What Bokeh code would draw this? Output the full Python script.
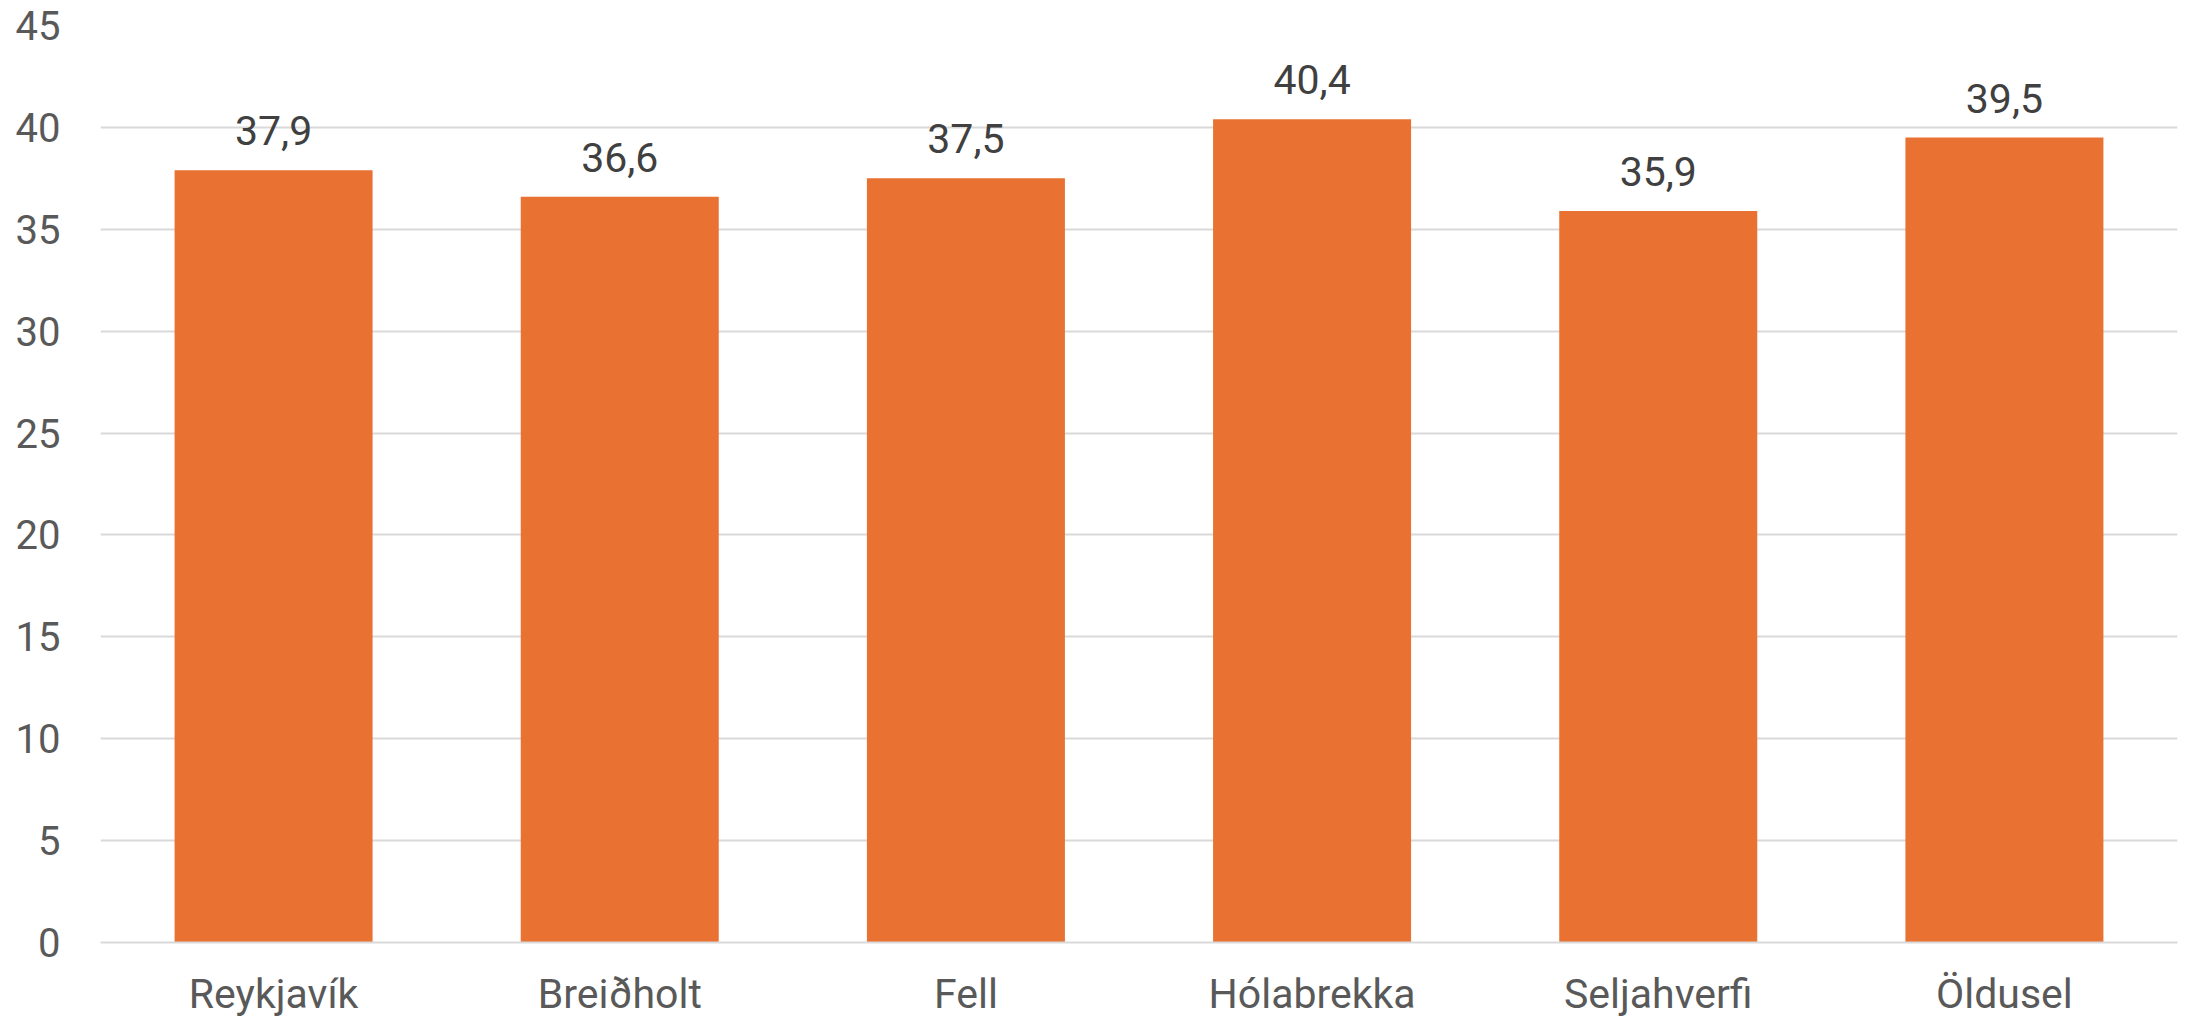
from bokeh.plotting import figure
from bokeh.models import ColumnDataSource, FactorRange, Range1d, FixedTicker
from bokeh.core.properties import value
from bokeh.embed import file_html
from bokeh.resources import INLINE

categories = ["Reykjavík", "Breiðholt", "Fell", "Hólabrekka", "Seljahverfi", "Öldusel"]
values = [37.9, 36.6, 37.5, 40.4, 35.9, 39.5]
y_ticks = [0, 5, 10, 15, 20, 25, 30, 35, 40, 45]

labels = [f"{v:.1f}".replace(".", ",") for v in values]
src = ColumnDataSource(dict(cat=categories, val=values, lab=labels))

FONT = "Roboto"

p = figure(
    x_range=FactorRange(*categories),
    y_range=Range1d(0, 45),
    width=2185, height=1020,
    output_backend="svg", toolbar_location=None,
    min_border_left=100, min_border_right=8, min_border_top=25, min_border_bottom=60,
)
p.outline_line_color = None
p.background_fill_color = "white"
p.border_fill_color = "white"

p.vbar(x="cat", top="val", width=0.572, source=src, fill_color="#E97132", line_color=None)

p.text(x="cat", y="val", text="lab", source=src, text_align="center", text_baseline="bottom",
       y_offset=-25, text_font=value(FONT), text_font_size="41px", text_color="#404040")

p.xgrid.grid_line_color = None
p.ygrid.grid_line_color = "#D9D9D9"
p.ygrid.grid_line_width = 2
p.ygrid.ticker = FixedTicker(ticks=y_ticks)

p.yaxis.ticker = FixedTicker(ticks=y_ticks)
p.yaxis.axis_line_color = None
p.yaxis.major_tick_line_color = None
p.yaxis.minor_tick_line_color = None
p.yaxis.major_tick_out = 0
p.yaxis.major_label_standoff = 40
p.yaxis.major_label_text_font = FONT
p.yaxis.major_label_text_font_size = "40px"
p.yaxis.major_label_text_color = "#595959"

p.xaxis.axis_line_color = "#D9D9D9"
p.xaxis.axis_line_width = 2
p.xaxis.major_tick_line_color = None
p.xaxis.minor_tick_line_color = None
p.xaxis.major_tick_out = 0
p.xaxis.major_label_standoff = 27
p.xaxis.major_label_text_font = FONT
p.xaxis.major_label_text_font_size = "41px"
p.xaxis.major_label_text_color = "#595959"

open("out.html", "w").write(file_html(p, INLINE))
